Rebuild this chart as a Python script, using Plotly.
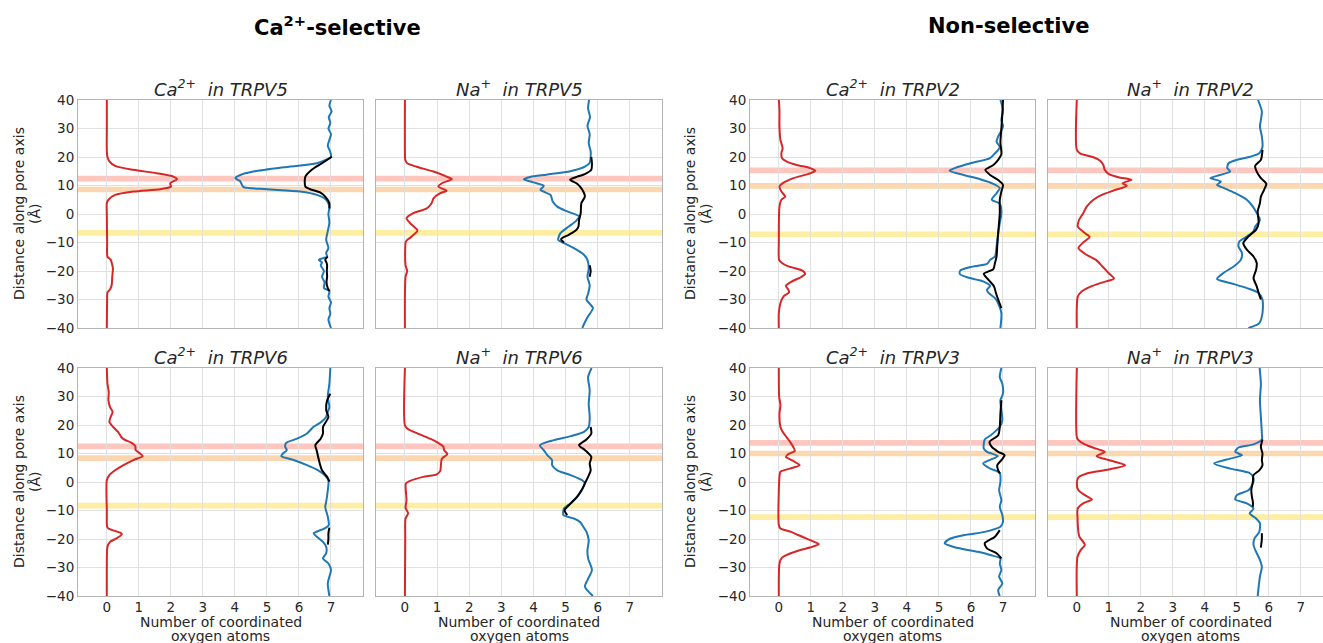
import plotly.graph_objects as go

W, H = 1323, 643

# ---------------- data ----------------
# Panel: Ca2+ in TRPV5
ca5_red_y = [40, 30, 22, 20, 18.5, 16.9, 15.5, 14.3, 13.1, 12.2, 10.8, 9.6, 8.7, 7.9, 6.7, 5.0, 3.8, 0, -10, -15, -16, -17, -19, -22, -25, -26.5, -27.5, -30, -40]
ca5_red_x = [0, 0, 0, 0.02, 0.08, 0.26, 0.83, 1.56, 2.08, 2.19, 1.98, 2.0, 1.67, 0.83, 0.26, 0.05, 0, 0, 0.01, 0.02, 0.12, 0.15, 0.19, 0.17, 0.15, 0.1, 0.02, 0.01, 0]
ca5_blue_y = [40, 38, 36, 34, 32, 30, 28, 26, 24, 22, 20.1, 17.8, 16.4, 14.9, 13.7, 12.6, 11.4, 10.2, 9.4, 8.7, 7.9, 6.7, 5.0, 2.6, 0, -3, -6, -9, -12, -13.7, -15, -15.5, -16.1, -17, -18, -20, -22, -24, -26, -27, -29, -31, -33, -35, -37, -40]
ca5_blue_x = [7.0, 6.95, 7.02, 6.93, 6.98, 6.92, 7.0, 6.95, 6.9, 6.97, 7.0, 6.56, 5.52, 4.58, 4.17, 4.01, 4.17, 4.22, 4.27, 5.0, 6.04, 6.56, 6.85, 6.95, 6.92, 6.95, 6.9, 6.85, 6.92, 6.85, 6.88, 6.75, 6.62, 6.72, 6.68, 6.78, 6.72, 6.8, 6.78, 6.95, 6.92, 7.0, 6.95, 6.98, 6.92, 7.0]
ca5_black_y = [20.1, 17.8, 15.5, 13.1, 11.4, 9.6, 8.7, 7.5, 6.1, 3.8, 2.0, None, -15, -16, -17, -18, -20, -22, -24, -26, -27]
ca5_black_x = [7.03, 6.72, 6.4, 6.2, 6.18, 6.2, 6.35, 6.67, 6.82, 6.95, 6.95, None, 6.9, 6.82, 6.86, 6.88, 6.87, 6.88, 6.86, 6.9, 6.95]

# Panel: Na+ in TRPV5
na5_red_y = [40, 22, 19, 17.8, 16.6, 14.9, 13.1, 12.2, 10.8, 9.6, 8.2, 7.3, 5.5, 3.8, 2.0, 0.3, -1.5, -3.2, -5.8, -7.9, -9.6, -12, -18, -20, -22, -40]
na5_red_x = [0, 0, 0.01, 0.07, 0.36, 0.89, 1.3, 1.46, 1.15, 1.04, 1.3, 1.1, 0.89, 0.83, 0.68, 0.26, 0.05, 0.16, 0.39, 0.21, 0.03, 0.01, 0.02, 0.07, 0.02, 0]
na5_blue_y = [40, 37, 34, 31, 28, 25, 22, 20.1, 18, 16.6, 15.0, 13.8, 13.0, 12.2, 11.1, 9.9, 8.5, 6.7, 4.4, 2.6, 0.9, -0.9, -2.6, -4.4, -6.7, -9.1, -10.2, -12, -14.3, -16.1, -19, -22, -25, -28, -30, -33, -35.9, -38, -40]
na5_blue_x = [5.73, 5.7, 5.76, 5.68, 5.75, 5.72, 5.78, 5.78, 5.75, 5.6, 5.15, 4.4, 3.9, 3.7, 4.0, 4.32, 4.22, 4.53, 4.6, 4.74, 5.05, 5.42, 5.31, 5.1, 4.84, 4.77, 4.95, 5.26, 5.57, 5.68, 5.72, 5.68, 5.75, 5.7, 5.65, 5.85, 5.7, 5.6, 5.52]
na5_black_y = [20, 17.5, 15.5, 14, 13.1, 12, 10.6, 8.5, 6.1, 3.8, 0.3, -2.1, -4.4, -5.5, -7.3, -8.8, -10, None, -18, -20, -22]
na5_black_x = [5.8, 5.82, 5.8, 5.6, 5.36, 5.14, 5.36, 5.52, 5.6, 5.49, 5.47, 5.42, 5.4, 5.34, 5.1, 4.86, 4.95, None, 5.75, 5.78, 5.75]

# Panel: Ca2+ in TRPV6
ca6_red_y = [40, 34.5, 31.6, 28.7, 26.3, 24.6, 22.8, 21.1, 19.3, 17.6, 15.8, 14.9, 13.7, 12.6, 11.2, 10, 9.1, 7.7, 5.9, 4.1, 2.4, 0.6, -10, -15.7, -16.3, -17.8, -18.3, -19.8, -21, -22.7, -30, -40]
ca6_red_x = [0, 0.02, 0.06, 0.05, 0.1, 0.18, 0.12, 0.08, 0.2, 0.35, 0.45, 0.55, 0.78, 0.89, 0.9, 1.04, 1.12, 0.83, 0.52, 0.26, 0.08, 0.0, 0.0, 0.01, 0.05, 0.42, 0.47, 0.3, 0.1, 0.02, 0, 0]
ca6_blue_y = [40, 34.5, 29.8, 26.3, 24, 22.8, 21.1, 19.3, 17, 15.2, 13.7, 12.3, 11.2, 10, 9.1, 7.7, 5.9, 4.1, 2.4, 0.6, -2.9, -7, -8.7, -12.2, -15.1, -16.3, -18, -19.2, -21, -22.7, -25, -26.8, -28.6, -30.9, -33.2, -35.6, -40]
ca6_blue_x = [6.98, 6.95, 6.9, 6.95, 6.88, 6.85, 6.7, 6.45, 6.25, 5.94, 5.6, 5.57, 5.62, 5.5, 5.45, 5.83, 6.25, 6.6, 6.8, 6.92, 6.9, 6.85, 6.82, 6.9, 6.93, 6.8, 6.46, 6.56, 6.75, 6.85, 6.85, 6.75, 6.92, 7.0, 6.95, 6.9, 6.95]
ca6_black_y = [31, 28.7, 25.2, 22.8, 19.3, 17, 15.2, 12.9, 11.2, 8.8, 6.5, 4.1, 1.8, 0.1, None, -16, -18, -20, -22]
ca6_black_x = [6.98, 6.88, 6.85, 6.92, 6.75, 6.75, 6.68, 6.51, 6.55, 6.6, 6.65, 6.72, 6.88, 6.95, None, 6.95, 6.92, 6.92, 6.9]

# Panel: Na+ in TRPV6
na6_red_y = [40, 19.9, 18.7, 17, 15.2, 13.7, 12.3, 11.2, 9.8, 8.2, 5.9, 3.9, 2.7, 1.8, 0.4, -0.5, -6.4, -9, -11, -12.8, -20, -40]
na6_red_x = [0, 0, 0.08, 0.4, 0.78, 1.04, 1.2, 1.22, 1.32, 1.15, 1.12, 1.1, 0.99, 0.57, 0.16, 0.03, 0.05, 0.02, 0.1, 0.02, 0.01, 0]
na6_blue_y = [40, 36.8, 32.2, 27.5, 22.8, 19.3, 17.6, 16.1, 14.7, 12.9, 11.2, 9.4, 7.7, 5.9, 4.1, 2.4, 0.6, -0.5, -2.9, -5.2, -7.5, -9.3, -11.6, -12.8, -14, -15.7, -17.5, -20.4, -23.9, -26.8, -30.9, -34.4, -36.7, -40]
na6_blue_x = [5.81, 5.7, 5.75, 5.72, 5.75, 5.72, 5.57, 5.16, 4.64, 4.2, 4.32, 4.43, 4.58, 4.58, 4.74, 5.16, 5.52, 5.6, 5.49, 5.35, 5.15, 4.95, 4.93, 5.26, 5.45, 5.55, 5.65, 5.72, 5.68, 5.7, 5.82, 5.68, 5.6, 5.85]
na6_black_y = [19.3, 17, 14.9, 12.9, 11.2, 8.8, 6.5, 4.1, 1.8, -0.5, -2.9, -5.2, -7.5, -9.9, -11.6]
na6_black_x = [5.78, 5.8, 5.65, 5.42, 5.6, 5.8, 5.75, 5.78, 5.7, 5.6, 5.5, 5.36, 5.16, 4.97, 5.05]

# Panel: Ca2+ in TRPV2
ca2_red_y = [40, 36.5, 30.7, 26, 23.1, 21.3, 19.6, 18.4, 17.2, 16.1, 15.2, 14.1, 12.6, 11, 9.6, 7.9, 6.1, 5, 2.6, -10, -16.1, -17.2, -18.4, -19.8, -21, -22.1, -23.7, -25.2, -26.6, -27.5, -28.9, -31.3, -34.8, -40]
ca2_red_x = [0, 0.02, 0.02, 0.05, 0.12, 0.08, 0.1, 0.25, 0.56, 0.98, 1.14, 0.93, 0.46, 0.15, 0.02, 0.08, 0.2, 0.08, 0.02, 0.0, 0.01, 0.1, 0.3, 0.72, 0.82, 0.7, 0.4, 0.22, 0.3, 0.32, 0.15, 0.05, 0.0, 0]
ca2_blue_y = [40, 36.5, 33, 30.7, 27.2, 25.4, 23.4, 21.3, 19.6, 17.8, 16.4, 15.2, 13.7, 12.2, 10.6, 9.1, 7.3, 5, 3.6, 0.3, -3.2, -6.7, -11.4, -14.9, -16.1, -17.5, -18.6, -19.8, -21, -22.1, -23.7, -25.2, -26.6, -27.7, -29.5, -31.3, -34.8, -40]
ca2_blue_x = [6.92, 7.0, 6.95, 7.0, 6.85, 6.8, 6.9, 6.75, 6.6, 5.98, 5.56, 5.33, 5.77, 6.29, 6.7, 6.9, 6.8, 6.65, 6.9, 6.95, 6.9, 6.85, 6.8, 6.75, 6.6, 6.5, 5.98, 5.67, 5.65, 5.85, 6.4, 6.6, 6.5, 6.55, 6.75, 6.85, 6.95, 6.92]
ca2_black_y = [40, 35, 30, 25, 21, 19, 17.2, 15.5, 13.7, 11.9, 10.2, 7.9, 5, 0.3, -6.7, -11.4, -14.9, -17.2, -19.3, -21, -23.1, -25.4, -27.7, -30, -33]
ca2_black_x = [7.0, 6.98, 6.95, 6.92, 6.95, 6.85, 6.7, 6.45, 6.6, 6.85, 7.0, 6.95, 6.9, 6.9, 6.85, 6.82, 6.8, 6.75, 6.7, 6.4, 6.55, 6.72, 6.78, 6.85, 6.95]

# Panel: Na+ in TRPV2
na2_red_y = [40, 22.5, 21.3, 19.9, 18.7, 17.2, 15.5, 14.1, 12.9, 12, 10.8, 9.9, 8.2, 6.7, 5, 2.6, 0.3, -2.1, -4.4, -6.7, -8.1, -10, -12, -14.3, -16.1, -18.4, -20.7, -22.6, -24, -25.4, -27.2, -29, -40]
na2_red_x = [0, 0, 0.1, 0.52, 0.73, 0.83, 0.87, 0.99, 1.3, 1.71, 1.43, 1.56, 1.14, 0.78, 0.52, 0.31, 0.2, 0.07, 0.03, 0.25, 0.4, 0.2, 0.05, 0.3, 0.6, 0.8, 0.99, 1.16, 0.8, 0.45, 0.15, 0.03, 0]
na2_blue_y = [40, 36, 33, 30.7, 27.2, 23.6, 21.3, 20.1, 19, 17.8, 16.1, 14.9, 13.7, 12.6, 11.4, 10.2, 9.1, 7.3, 5, 2.6, 0.3, -2.1, -4.4, -6.1, -7.9, -9.6, -11.4, -13.7, -16.1, -18.4, -20.7, -22.8, -24.2, -26, -27.7, -30, -34.8, -38.3, -40]
na2_blue_x = [5.66, 5.78, 5.75, 5.72, 5.78, 5.8, 5.7, 5.42, 5.0, 4.74, 4.7, 4.79, 4.48, 4.17, 4.5, 4.38, 4.6, 4.95, 5.31, 5.5, 5.62, 5.72, 5.57, 5.52, 5.31, 5.08, 5.05, 5.16, 5.12, 4.9, 4.58, 4.38, 4.79, 5.31, 5.68, 5.8, 5.8, 5.7, 5.36]
na2_black_y = [22.5, 19, 16.9, 14.9, 12.6, 10.6, 8.5, 6.1, 3.8, 0.9, -3.2, -5.5, -7.9, -10.2, -12.5, -14.9, -17.2, -19.6, -22.5, -25.4, -27.7, -30]
na2_black_x = [5.8, 5.75, 5.57, 5.62, 5.75, 5.92, 5.85, 5.75, 5.72, 5.65, 5.68, 5.6, 5.36, 5.2, 5.31, 5.52, 5.62, 5.6, 5.52, 5.62, 5.68, 5.75]

# Panel: Ca2+ in TRPV3
ca3_red_y = [40, 30, 27, 24, 19.3, 17.6, 15.6, 14.1, 12.3, 10.9, 9.8, 8.8, 7.4, 5.9, 4.7, 3.6, 1.8, -15.1, -16.3, -17.5, -18.6, -19.8, -21, -21.8, -22.9, -24.1, -25.6, -26.8, -28.6, -40]
ca3_red_x = [0, 0.01, 0.05, 0.02, 0.05, 0.12, 0.25, 0.35, 0.45, 0.5, 0.3, 0.22, 0.45, 0.65, 0.35, 0.05, 0.02, 0.0, 0.05, 0.39, 0.6, 0.85, 1.11, 1.25, 1.0, 0.6, 0.25, 0.08, 0.02, 0]
ca3_blue_y = [40, 36.8, 34.5, 31, 28.7, 25.2, 21.7, 19.3, 18.2, 16.4, 14.9, 13.3, 11.7, 10.6, 9.1, 7.7, 6.5, 4.7, 3.2, 0.1, -2.9, -6.4, -8.7, -11.6, -14, -15.7, -17.5, -18.6, -20, -21.5, -22.9, -24.5, -25.6, -26.8, -28.6, -30.9, -33.2, -35.6, -37.9, -40]
ca3_blue_x = [6.95, 6.9, 6.98, 7.0, 6.92, 6.95, 6.98, 6.9, 6.8, 6.62, 6.43, 6.4, 6.4, 6.5, 6.84, 6.58, 6.38, 6.6, 6.9, 6.92, 6.88, 6.95, 6.9, 6.98, 7.0, 6.92, 6.43, 5.8, 5.33, 5.18, 5.49, 6.22, 6.6, 6.92, 6.9, 6.95, 6.88, 6.98, 6.85, 6.9]
ca3_black_y = [28.7, 24, 19.3, 16.4, 14.1, 12.3, 10.6, 9.4, 7.7, 5.9, 4.1, 3, None, -16.9, -19.2, -21.5, -23.3, -25, -26.8]
ca3_black_x = [6.95, 6.92, 6.9, 6.85, 6.58, 6.65, 6.85, 7.05, 6.95, 6.82, 6.85, 6.9, None, 6.9, 6.75, 6.43, 6.5, 6.8, 6.95]

# Panel: Na+ in TRPV3
na3_red_y = [40, 15.8, 14.7, 13.2, 11.7, 10.6, 9.1, 7.7, 5.9, 4.4, 3, 1.6, -0.5, -2.9, -4.6, -6.1, -7.5, -9.3, -12.2, -19.2, -21, -22.1, -23.9, -26.3, -40]
na3_red_x = [0, 0, 0.05, 0.25, 0.6, 0.88, 0.62, 0.99, 1.51, 1.0, 0.31, 0.05, 0.0, 0.05, 0.25, 0.47, 0.2, 0.03, 0.02, 0.08, 0.2, 0.25, 0.12, 0.02, 0]
na3_blue_y = [40, 34.5, 28.7, 22.8, 17, 14.9, 13.2, 12.1, 10.6, 9.4, 8.2, 6.5, 4.7, 3, 1.3, -0.5, -2.9, -4.6, -6.1, -7.5, -9.3, -11, -12.8, -14.5, -17.5, -19.8, -22.1, -24.5, -26.8, -29.7, -33.2, -36.7, -40]
na3_blue_x = [5.71, 5.75, 5.72, 5.75, 5.78, 5.78, 5.52, 5.05, 4.95, 5.16, 4.79, 4.29, 4.79, 5.42, 5.52, 5.5, 5.36, 5.0, 4.95, 5.31, 5.52, 5.4, 5.6, 5.72, 5.7, 5.55, 5.52, 5.6, 5.7, 5.78, 5.72, 5.68, 5.65]
na3_black_y = [14.9, 12.3, 10, 7.7, 5.9, 4.1, 2.4, 0.1, -2.9, -5.2, -7, -8.7, None, -18, -20, -23]
na3_black_x = [5.8, 5.75, 5.8, 5.78, 5.8, 5.7, 5.52, 5.5, 5.45, 5.47, 5.5, 5.5, None, 5.78, 5.78, 5.75]

# Horizontal band centres (Å): pink, orange, yellow
bands_trpv5 = [12.4, 8.6, -6.6]
bands_trpv6 = [12.5, 8.4, -8.3]
bands_trpv2 = [15.3, 9.9, -7.1]
bands_trpv3 = [13.7, 10.0, -12.3]

panel_titles = ["Ca<sup>2+</sup>\u00a0 in TRPV5", "Na<sup>+</sup>\u00a0 in TRPV5",
                "Ca<sup>2+</sup>\u00a0 in TRPV2", "Na<sup>+</sup>\u00a0 in TRPV2",
                "Ca<sup>2+</sup>\u00a0 in TRPV6", "Na<sup>+</sup>\u00a0 in TRPV6",
                "Ca<sup>2+</sup>\u00a0 in TRPV3", "Na<sup>+</sup>\u00a0 in TRPV3"]
group_titles = ["Ca<sup>2+</sup>-selective", "Non-selective"]
x_ticks = [0, 1, 2, 3, 4, 5, 6, 7]
y_ticks = [-40, -30, -20, -10, 0, 10, 20, 30, 40]

# ---------------- layout geometry ----------------
panels = [
    (ca5_red_x, ca5_red_y, ca5_blue_x, ca5_blue_y, ca5_black_x, ca5_black_y, bands_trpv5),
    (na5_red_x, na5_red_y, na5_blue_x, na5_blue_y, na5_black_x, na5_black_y, bands_trpv5),
    (ca2_red_x, ca2_red_y, ca2_blue_x, ca2_blue_y, ca2_black_x, ca2_black_y, bands_trpv2),
    (na2_red_x, na2_red_y, na2_blue_x, na2_blue_y, na2_black_x, na2_black_y, bands_trpv2),
    (ca6_red_x, ca6_red_y, ca6_blue_x, ca6_blue_y, ca6_black_x, ca6_black_y, bands_trpv6),
    (na6_red_x, na6_red_y, na6_blue_x, na6_blue_y, na6_black_x, na6_black_y, bands_trpv6),
    (ca3_red_x, ca3_red_y, ca3_blue_x, ca3_blue_y, ca3_black_x, ca3_black_y, bands_trpv3),
    (na3_red_x, na3_red_y, na3_blue_x, na3_blue_y, na3_black_x, na3_black_y, bands_trpv3),
]

col_px = [(78, 363), (376, 662), (750, 1035), (1048, 1323)]
row_px = [(100, 328), (368, 596)]
col_xrange = [[-0.9, 8], [-0.9, 8], [-0.9, 8], [-0.9, 7.69]]
col_center = [220.5, 519, 892.5, 1190.5]

band_colors = ["#fdc6be", "#fcd6ae", "#fdeea2"]
FONT = "DejaVu Sans"
TXT = "#262626"

fig = go.Figure()
layout = dict(width=W, height=H, autosize=False, margin=dict(l=0, r=0, t=0, b=0, pad=0),
              paper_bgcolor="white", plot_bgcolor="white", showlegend=False,
              font=dict(family=FONT, size=14, color=TXT))
shapes = []
annotations = []

def px2x(p):
    return p / W

def py2y(p):
    return 1 - p / H

for i, (rx, ry, bx, by, kx, ky, bands) in enumerate(panels):
    r, c = divmod(i, 4)
    n = i + 1
    xa = "x" if n == 1 else f"x{n}"
    ya = "y" if n == 1 else f"y{n}"
    for xs, ys, col in [(rx, ry, "#d62728"), (bx, by, "#1f77b4"), (kx, ky, "black")]:
        fig.add_trace(go.Scatter(x=xs, y=ys, mode="lines", xaxis=xa, yaxis=ya,
                                 line=dict(color=col, width=2, shape="spline", smoothing=0.7),
                                 connectgaps=False, hoverinfo="skip"))
    x0, x1 = col_px[c]
    y0, y1 = row_px[r]
    layout[f"xaxis{n}"] = dict(domain=[px2x(x0), px2x(x1)], range=col_xrange[c], anchor=ya,
                               tickvals=x_ticks, showticklabels=(r == 1), automargin=False,
                               ticklabelstandoff=-1,
                               showgrid=True, gridcolor="#e0e0e0", gridwidth=1,
                               showline=True, mirror=True, linecolor="#b3b3b3", linewidth=1,
                               zeroline=False, ticks="", tickfont=dict(size=13.5, color=TXT))
    layout[f"yaxis{n}"] = dict(domain=[py2y(y1), py2y(y0)], range=[-40, 40], anchor=xa,
                               tickvals=y_ticks, showticklabels=(c in (0, 2)), automargin=False,
                               showgrid=True, gridcolor="#e0e0e0", gridwidth=1,
                               showline=True, mirror=True, linecolor="#b3b3b3", linewidth=1,
                               zeroline=False, ticks="", tickfont=dict(size=13.5, color=TXT))
    for b, colr in zip(bands, band_colors):
        shapes.append(dict(type="rect", xref=f"{xa} domain", yref=ya, x0=0, x1=1,
                           y0=b - 1.0, y1=b + 1.0, fillcolor=colr, line=dict(width=0),
                           layer="below"))
    annotations.append(dict(text=f"<i>{panel_titles[i]}</i>", xref="paper", yref="paper",
                            x=px2x(col_center[c]), y=py2y(y0 + 2), xanchor="center", yanchor="bottom",
                            showarrow=False, font=dict(size=18, color=TXT, family=FONT)))
    if r == 1:
        annotations.append(dict(text="Number of coordinated", xref="paper", yref="paper",
                                x=px2x(col_center[c]), y=py2y(621.5), xanchor="center", yanchor="middle",
                                showarrow=False, font=dict(size=14, color=TXT, family=FONT)))
        annotations.append(dict(text="oxygen atoms", xref="paper", yref="paper",
                                x=px2x(col_center[c]), y=py2y(636), xanchor="center", yanchor="middle",
                                showarrow=False, font=dict(size=14, color=TXT, family=FONT)))
    if c in (0, 2):
        cx = 19 if c == 0 else 690
        annotations.append(dict(text="Distance along pore axis", xref="paper", yref="paper",
                                x=px2x(cx), y=py2y((y0 + y1) / 2), xanchor="center", yanchor="middle",
                                textangle=-90, showarrow=False,
                                font=dict(size=14, color=TXT, family=FONT)))
        annotations.append(dict(text="(Å)", xref="paper", yref="paper",
                                x=px2x(cx + 16), y=py2y((y0 + y1) / 2), xanchor="center", yanchor="middle",
                                textangle=-90, showarrow=False,
                                font=dict(size=14, color=TXT, family=FONT)))

for t, cx in zip(group_titles, [337.5, 1008.5]):
    annotations.append(dict(text=f"<b>{t}</b>", xref="paper", yref="paper", x=px2x(cx), y=py2y(26),
                            xanchor="center", yanchor="middle", showarrow=False,
                            font=dict(size=21, color="black", family=FONT)))

layout["shapes"] = shapes
layout["annotations"] = annotations
fig.update_layout(**layout)
fig.write_html("out.html", config={"displayModeBar": False},
               post_script="document.body.style.margin='0';document.body.style.overflow='hidden';")
